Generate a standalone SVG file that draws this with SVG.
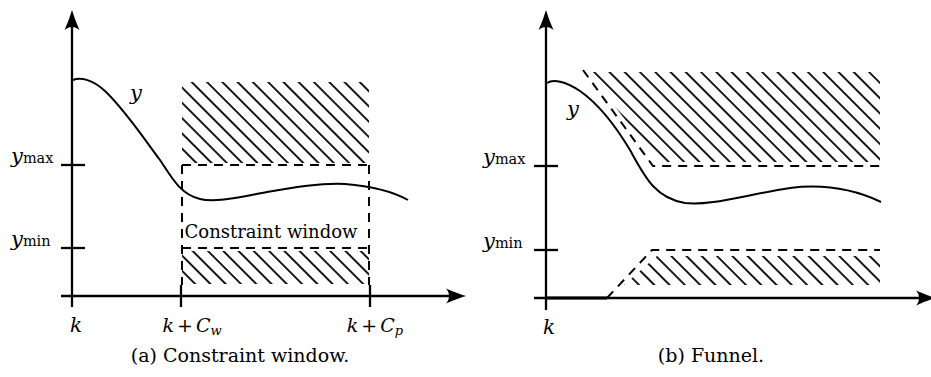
<svg xmlns="http://www.w3.org/2000/svg" xmlns:xlink="http://www.w3.org/1999/xlink" width="931" height="377" viewBox="0 0 931 377">
<style>
.ax{stroke:#000;stroke-width:2.3;fill:none}
.cv{stroke:#000;stroke-width:2;fill:none}
.ds{stroke:#000;stroke-width:2;fill:none;stroke-dasharray:9 7}
.t{font-family:"DejaVu Serif","Liberation Serif",serif;fill:#000}
.it{font-style:italic}
</style>
<defs>
<pattern id="hatch" patternUnits="userSpaceOnUse" width="10.8" height="10.8" patternTransform="rotate(-45)">
<line x1="2" y1="0" x2="2" y2="10.8" stroke="#000" stroke-width="1.8"/>
</pattern>
<path id="ah" d="M0,0 C-5,-1.5 -12,-4 -20,-7.5 C-16,-3 -16,3 -20,7.5 C-12,4 -5,1.5 0,0 Z" fill="#000"/>
</defs>
<rect width="931" height="377" fill="#fff"/>

<g id="panel-a">
<g id="a-regions">
<rect x="182" y="82" width="187" height="81" fill="url(#hatch)"/>
<rect x="182" y="251" width="187" height="33" fill="url(#hatch)"/>
</g>
<g id="a-axes">
<line class="ax" x1="72" y1="25" x2="72" y2="307"/>
<use xlink:href="#ah" transform="translate(72,10) rotate(-90)"/>
<line class="ax" x1="61" y1="296" x2="452" y2="296"/>
<use xlink:href="#ah" transform="translate(466,296)"/>
<line class="ax" x1="61" y1="165" x2="85" y2="165"/>
<line class="ax" x1="61" y1="248" x2="85" y2="248"/>
<line class="ax" x1="181" y1="285" x2="181" y2="307"/>
<line class="ax" x1="370" y1="285" x2="370" y2="307"/>
</g>
<g id="a-window">
<path class="ds" d="M182,165 H369"/>
<path class="ds" d="M182,248 H369"/>
<path class="ds" d="M182,165 V285"/>
<path class="ds" d="M369,165 V285"/>
</g>
<path id="a-curve" class="cv" d="M73,80 C80,77 92,79 105,91 C125,110 145,140 160,160 C172,178 180,194 200,199 C215,203 240,197 267,192 C295,187 320,183 345,184 C370,186 390,190 408,200"/>
<g id="a-labels">
<text class="t it" x="130" y="100" font-size="21">y</text>
<text class="t" x="11" y="163"><tspan class="it" font-size="21">y</tspan><tspan font-size="14.5">max</tspan></text>
<text class="t" x="11" y="246"><tspan class="it" font-size="21">y</tspan><tspan font-size="14.5">min</tspan></text>
<text class="t it" x="76" y="332" font-size="20" text-anchor="middle">k</text>
<text class="t" x="192" y="332" font-size="19" text-anchor="middle"><tspan class="it">k</tspan><tspan dx="3">+</tspan><tspan class="it" dx="3">C</tspan><tspan class="it" font-size="13" dy="3">w</tspan></text>
<text class="t" x="375" y="332" font-size="19" text-anchor="middle"><tspan class="it">k</tspan><tspan dx="3">+</tspan><tspan class="it" dx="3">C</tspan><tspan class="it" font-size="13" dy="3">p</tspan></text>
<text class="t" x="271" y="238" font-size="18" text-anchor="middle">Constraint window</text>
<text class="t" x="240" y="362" font-size="19" text-anchor="middle">(a) Constraint window.</text>
</g>
</g>

<g id="panel-b">
<g id="b-regions">
<polygon points="589,72 880,72 880,162 657,162" fill="url(#hatch)"/>
<polygon points="624,285 880,285 880,256 657,256" fill="url(#hatch)"/>
</g>
<g id="b-axes">
<line class="ax" x1="546" y1="25" x2="546" y2="310"/>
<use xlink:href="#ah" transform="translate(546,10) rotate(-90)"/>
<line class="ax" x1="534" y1="298" x2="920" y2="298"/>
<use xlink:href="#ah" transform="translate(936,298)"/>
<line class="ax" x1="534" y1="166" x2="558" y2="166"/>
<line class="ax" x1="534" y1="250" x2="558" y2="250"/>
<line x1="546" y1="298" x2="607" y2="298" stroke="#000" stroke-width="3"/>
</g>
<g id="b-funnel">
<path class="ds" d="M583,70 L653,166 H880"/>
<path class="ds" d="M607,298 L652,250 H880"/>
</g>
<path id="b-curve" class="cv" d="M547,83 C553,79 565,81 580,91 C600,105 615,125 630,150 C645,177 655,198 685,203 C710,206 745,195 790,188 C830,183 860,192 881,202"/>
<g id="b-labels">
<text class="t it" x="567" y="116" font-size="21">y</text>
<text class="t" x="483" y="164"><tspan class="it" font-size="21">y</tspan><tspan font-size="14.5">max</tspan></text>
<text class="t" x="483" y="248"><tspan class="it" font-size="21">y</tspan><tspan font-size="14.5">min</tspan></text>
<text class="t it" x="549" y="334" font-size="20" text-anchor="middle">k</text>
<text class="t" x="711" y="362" font-size="19" text-anchor="middle">(b) Funnel.</text>
</g>
</g>
</svg>
